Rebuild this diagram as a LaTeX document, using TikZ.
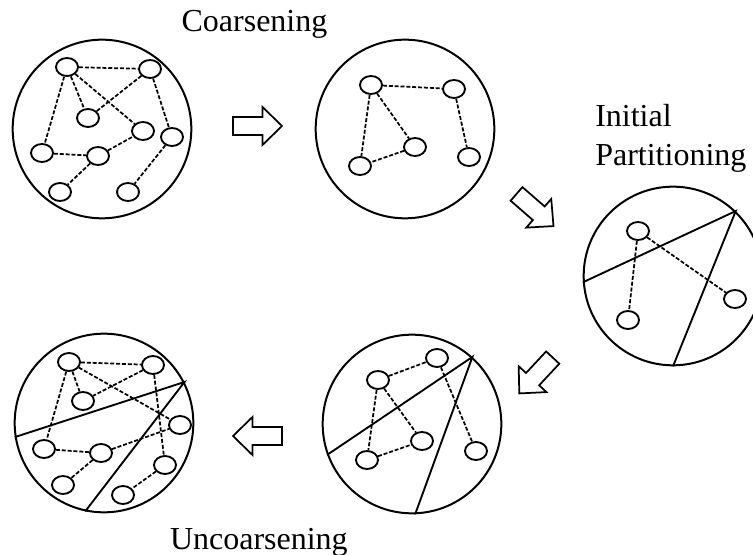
\documentclass[tikz,border=0pt]{standalone}
\usepackage{fontspec}
\setmainfont{Liberation Serif}
\usetikzlibrary{shapes.geometric}
\tikzset{
 bigc/.style={draw, circle, line width=1.5pt, minimum size=134pt, inner sep=0pt},
 vtx/.style={draw, ellipse, line width=1.4pt, minimum width=16.5pt, minimum height=13.5pt, inner sep=0pt},
 lnk/.style={line width=1.3pt, dash pattern=on 3pt off 1.4pt},
 cut/.style={line width=1.4pt},
 barrow/.style={draw, line width=1.3pt, line join=miter},
 lbl/.style={font=\fontsize{24}{28}\selectfont, inner sep=0pt},
}
\newcommand{\blockarrowpath}{(-24.5,-9) -- (5,-9) -- (5,-19) -- (24.5,0) -- (5,19) -- (5,9) -- (-24.5,9) -- cycle}
\begin{document}
\begin{tikzpicture}[x=0.75pt,y=-0.75pt]
\useasboundingbox (0,0) rectangle (753,555);
\clip (0,0) rectangle (753,555);

% ---------- labels
\node[lbl, anchor=base] (t1) at (254.5,32) {Coarsening};
\node[lbl, anchor=base west] (t2) at (595,127) {Initial};
\node[lbl, anchor=base west] (t3) at (595,166) {Partitioning};
\node[lbl, anchor=base east] (t4) at (348,549) {Uncoarsening};

% ---------- big circles
\node[bigc] (C1) at (102,129) {};
\node[bigc] (C2) at (405,129) {};
\node[bigc] (C3) at (673,276) {};
\node[bigc] (C4) at (412,424) {};
\node[bigc] (C5) at (104,423) {};

% ---------- graph 1
\node[vtx] (a1) at (67,67) {};
\node[vtx] (b1) at (150,69) {};
\node[vtx] (c1) at (88,118) {};
\node[vtx] (d1) at (143,131) {};
\node[vtx] (e1) at (172,137) {};
\node[vtx] (f1) at (42,153) {};
\node[vtx] (g1) at (98,156) {};
\node[vtx] (h1) at (60,192) {};
\node[vtx] (i1) at (128,192) {};
\draw[lnk] (a1) -- (b1);
\draw[lnk] (a1) -- (f1);
\draw[lnk] (a1) -- (c1);
\draw[lnk] (a1) -- (d1);
\draw[lnk] (b1) -- (c1);
\draw[lnk] (b1) -- (e1);
\draw[lnk] (f1) -- (g1);
\draw[lnk] (g1) -- (d1);
\draw[lnk] (g1) -- (h1);
\draw[lnk] (e1) -- (i1);

% ---------- graph 2
\node[vtx] (a2) at (371,85) {};
\node[vtx] (b2) at (454,89) {};
\node[vtx] (c2) at (415,147) {};
\node[vtx] (d2) at (360,166) {};
\node[vtx] (e2) at (469,157) {};
\draw[lnk] (a2) -- (b2);
\draw[lnk] (a2) -- (d2);
\draw[lnk] (a2) -- (c2);
\draw[lnk] (c2) -- (d2);
\draw[lnk] (b2) -- (e2);

% ---------- graph 3
\node[vtx] (a3) at (638,231) {};
\node[vtx] (b3) at (628,320) {};
\node[vtx] (c3) at (735,299) {};
\draw[lnk] (a3) -- (b3);
\draw[lnk] (a3) -- (c3);
\coordinate (p3) at (C3.46);
\draw[cut] (C3.184) -- (p3) -- (C3.270);

% ---------- graph 4
\node[vtx] (a4) at (378,380) {};
\node[vtx] (b4) at (437,358) {};
\node[vtx] (c4) at (422,441) {};
\node[vtx] (d4) at (367,460) {};
\node[vtx] (e4) at (476,451) {};
\draw[lnk] (a4) -- (b4);
\draw[lnk] (a4) -- (d4);
\draw[lnk] (a4) -- (c4);
\draw[lnk] (d4) -- (c4);
\draw[lnk] (b4) -- (e4);
\coordinate (p4) at (C4.48);
\draw[cut] (C4.200) -- (p4) -- (C4.272);

% ---------- graph 5
\node[vtx] (a5) at (69,362) {};
\node[vtx] (b5) at (153,365) {};
\node[vtx] (c5) at (83,401) {};
\node[vtx] (d5) at (180,425) {};
\node[vtx] (e5) at (44,449) {};
\node[vtx] (f5) at (101,453) {};
\node[vtx] (g5) at (165,465) {};
\node[vtx] (h5) at (63,485) {};
\node[vtx] (i5) at (123,495) {};
\draw[lnk] (a5) -- (b5);
\draw[lnk] (a5) -- (e5);
\draw[lnk] (a5) -- (c5);
\draw[lnk] (a5) -- (d5);
\draw[lnk] (b5) -- (c5);
\draw[lnk] (b5) -- (g5);
\draw[lnk] (e5) -- (f5);
\draw[lnk] (f5) -- (d5);
\draw[lnk] (f5) -- (h5);
\draw[lnk] (g5) -- (i5);
\coordinate (p5) at (C5.27);
\draw[cut] (C5.189) -- (p5) -- (C5.258);

% ---------- block arrows
\begin{scope}[shift={(257.5,126)}]
  \draw[barrow] \blockarrowpath;
\end{scope}
\begin{scope}[shift={(535,210)}, rotate=-41]
  \draw[barrow] \blockarrowpath;
\end{scope}
\begin{scope}[shift={(536,375.5)}, rotate=227]
  \draw[barrow] \blockarrowpath;
\end{scope}
\begin{scope}[shift={(257.5,436)}, rotate=180]
  \draw[barrow] \blockarrowpath;
\end{scope}
\end{tikzpicture}
\end{document}
